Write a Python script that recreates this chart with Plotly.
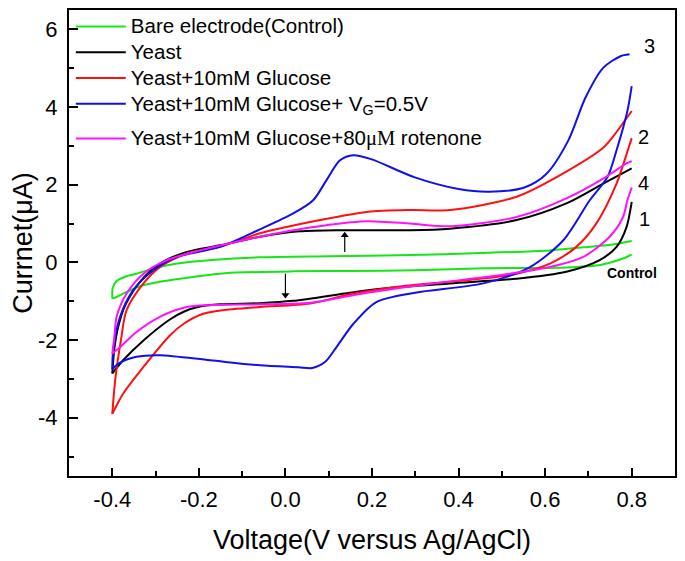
import plotly.graph_objects as go

# ---- data (V vs Ag/AgCl, current in µA) ----
# Bare electrode (Control)
ctrl_fwd_v = [-0.400, -0.399, -0.390, -0.370, -0.344, -0.30, -0.25, -0.17, -0.06, 0.10, 0.29, 0.45, 0.61, 0.70, 0.76, 0.80]
ctrl_fwd_i = [-0.93, -0.65, -0.48, -0.37, -0.29, -0.14, -0.03, 0.06, 0.13, 0.16, 0.19, 0.24, 0.31, 0.40, 0.47, 0.55]
ctrl_rev_v = [0.80, 0.78, 0.73, 0.65, 0.46, 0.30, 0.15, 0.02, -0.14, -0.21, -0.29, -0.33, -0.37, -0.39, -0.400]
ctrl_rev_i = [0.21, 0.10, -0.06, -0.13, -0.15, -0.20, -0.22, -0.23, -0.28, -0.37, -0.50, -0.59, -0.78, -0.89, -0.93]

# Yeast (1)
yeast_fwd_v = [-0.40, -0.395, -0.385, -0.37, -0.336, -0.29, -0.228, -0.151, -0.059, 0.033, 0.134, 0.288, 0.38, 0.534, 0.649, 0.734, 0.80]
yeast_fwd_i = [-2.86, -2.2, -1.6, -1.1, -0.50, -0.03, 0.27, 0.44, 0.66, 0.80, 0.83, 0.83, 0.87, 1.09, 1.52, 2.03, 2.42]
yeast_rev_v = [0.80, 0.788, 0.765, 0.726, 0.649, 0.534, 0.38, 0.226, 0.149, 0.018, -0.059, -0.151, -0.195, -0.235, -0.267, -0.328, -0.375, -0.40]
yeast_rev_i = [1.56, 0.91, 0.40, 0.06, -0.24, -0.42, -0.54, -0.67, -0.78, -0.99, -1.05, -1.08, -1.13, -1.27, -1.47, -2.01, -2.52, -2.86]

# Yeast + 10mM Glucose (2)
glu_fwd_v = [-0.40, -0.393, -0.38, -0.367, -0.328, -0.29, -0.228, -0.151, -0.059, 0.057, 0.188, 0.288, 0.38, 0.534, 0.651, 0.734, 0.754, 0.80]
glu_fwd_i = [-3.90, -3.0, -2.0, -1.23, -0.54, -0.12, 0.23, 0.40, 0.75, 1.04, 1.30, 1.35, 1.35, 1.69, 2.35, 2.95, 3.20, 3.90]
glu_rev_v = [0.80, 0.791, 0.765, 0.718, 0.672, 0.611, 0.534, 0.418, 0.264, 0.149, 0.057, -0.059, -0.150, -0.195, -0.235, -0.267, -0.328, -0.375, -0.40]
glu_rev_i = [3.20, 2.89, 2.03, 1.00, 0.40, -0.03, -0.29, -0.46, -0.62, -0.82, -1.06, -1.15, -1.24, -1.34, -1.58, -1.88, -2.69, -3.38, -3.90]

# Yeast + 10mM Glucose + VG = 0.5 V (3)
vg_fwd_v = [-0.40, -0.398, -0.382, -0.352, -0.305, -0.251, -0.151, -0.059, 0.018, 0.064, 0.095, 0.126, 0.157, 0.198, 0.299, 0.40, 0.471, 0.552, 0.602, 0.653, 0.693, 0.734, 0.774, 0.795]
vg_fwd_i = [-2.75, -2.26, -1.40, -0.72, -0.20, 0.14, 0.40, 0.85, 1.26, 1.60, 2.12, 2.63, 2.76, 2.66, 2.19, 1.89, 1.82, 1.93, 2.27, 3.13, 4.24, 5.01, 5.31, 5.36]
vg_rev_v = [0.80, 0.79, 0.765, 0.744, 0.703, 0.642, 0.565, 0.457, 0.30, 0.21, 0.157, 0.118, 0.092, 0.062, 0.030, -0.059, -0.174, -0.29, -0.344, -0.385, -0.40]
vg_rev_i = [4.54, 3.9, 2.89, 2.2, 1.60, 0.57, -0.12, -0.54, -0.78, -1.02, -1.58, -2.18, -2.56, -2.72, -2.70, -2.65, -2.52, -2.39, -2.43, -2.60, -2.75]

# Yeast + 10mM Glucose + 80µM rotenone (4)
rot_fwd_v = [-0.40, -0.395, -0.39, -0.367, -0.328, -0.274, -0.197, -0.097, 0.018, 0.095, 0.188, 0.288, 0.38, 0.534, 0.649, 0.734, 0.788, 0.80]
rot_fwd_i = [-2.35, -1.9, -1.40, -0.80, -0.29, 0.06, 0.31, 0.57, 0.83, 0.96, 1.06, 1.00, 0.93, 1.17, 1.65, 2.16, 2.55, 2.61]
rot_rev_v = [0.80, 0.79, 0.78, 0.749, 0.688, 0.611, 0.495, 0.341, 0.188, 0.057, -0.059, -0.174, -0.228, -0.29, -0.344, -0.382, -0.40]
rot_rev_i = [1.93, 1.60, 1.17, 0.66, 0.14, -0.12, -0.33, -0.54, -0.78, -1.04, -1.08, -1.10, -1.15, -1.40, -1.79, -2.18, -2.35]

series_names = [
    "Bare electrode(Control)",
    "Yeast",
    "Yeast+10mM Glucose",
    "Yeast+10mM Glucose+ V<sub>G</sub>=0.5V",
    "Yeast+10mM Glucose+80<span style=\"font-family:Liberation Serif\">μM</span> rotenone",
]
series_colors = ["#16e616", "#000000", "#ff1010", "#1010ee", "#ff10ff"]
series_groups = ["a", "a", "a", "a", "b"]

curve_labels = ["3", "2", "4", "1"]
curve_label_v = [0.840, 0.828, 0.828, 0.830]
curve_label_i = [5.57, 3.22, 2.05, 1.13]

# arrows: x, tail current, head current, head symbol
arrow_v = [0.137, 0.0]
arrow_tail_i = [0.27, -0.29]
arrow_head_i = [0.70, -0.84]
arrow_symbol = ["triangle-up", "triangle-down"]

x_tickvals = [-0.4, -0.2, 0.0, 0.2, 0.4, 0.6, 0.8]
x_ticktext = ["-0.4", "-0.2", "0.0", "0.2", "0.4", "0.6", "0.8"]
y_tickvals = [-4, -2, 0, 2, 4, 6]
y_ticktext = ["-4", "-2", "0", "2", "4", "6"]

FONT = "Liberation Sans, Arial, sans-serif"

data = [
    (ctrl_fwd_v, ctrl_fwd_i, ctrl_rev_v, ctrl_rev_i),
    (yeast_fwd_v, yeast_fwd_i, yeast_rev_v, yeast_rev_i),
    (glu_fwd_v, glu_fwd_i, glu_rev_v, glu_rev_i),
    (vg_fwd_v, vg_fwd_i, vg_rev_v, vg_rev_i),
    (rot_fwd_v, rot_fwd_i, rot_rev_v, rot_rev_i),
]

fig = go.Figure()
for (fv, fi, rv, ri), name, col, grp in zip(data, series_names, series_colors, series_groups):
    fig.add_trace(go.Scatter(
        x=list(fv) + [None] + list(rv),
        y=list(fi) + [None] + list(ri),
        mode="lines", name='<span style="font-size:20.5px">' + name + '</span>',
        legendgroup=grp,
        line=dict(color=col, width=2, shape="spline", smoothing=0.8),
        connectgaps=False,
    ))

# arrows (shaft as shapes, head as marker)
for v, t, h in zip(arrow_v, arrow_tail_i, arrow_head_i):
    fig.add_shape(type="line", x0=v, x1=v, y0=t, y1=h, xref="x", yref="y",
                  line=dict(color="#000", width=1.2))
fig.add_trace(go.Scatter(x=arrow_v, y=arrow_head_i, mode="markers", showlegend=False,
                         hoverinfo="skip",
                         marker=dict(symbol=arrow_symbol, size=7, color="#000")))

for t, v, i in zip(curve_labels, curve_label_v, curve_label_i):
    fig.add_annotation(x=v, y=i, text=t, showarrow=False,
                       font=dict(family=FONT, size=20, color="#000"))
fig.add_annotation(x=0.80, y=-0.28, text="<b>Control</b>", showarrow=False,
                   font=dict(family=FONT, size=14, color="#000"))

# the page adds an 8 px body margin, so the figure is 8 px smaller and its margins compensate
fig.update_layout(
    width=677, height=553,
    margin=dict(l=61, r=10, t=2, b=85, autoexpand=False),
    paper_bgcolor="white", plot_bgcolor="white",
    font=dict(family=FONT, color="#000"),
    showlegend=True,
    legend=dict(x=0.003, y=1.003, xanchor="left", yanchor="top",
                bgcolor="rgba(0,0,0,0)", borderwidth=0,
                font=dict(family=FONT, size=17.5, color="#000"),
                itemwidth=50, tracegroupgap=9, traceorder="grouped"),
    xaxis=dict(
        range=[-0.5, 0.9], tickmode="array", tickvals=x_tickvals, ticktext=x_ticktext,
        ticks="inside", ticklen=8, tickwidth=2, tickcolor="#000",
        showline=True, linecolor="#000", linewidth=2, mirror=True,
        showgrid=False, zeroline=False, automargin=False,
        tickfont=dict(family=FONT, size=22),
        ticklabelstandoff=3,
        minor=dict(ticks="inside", ticklen=5, tickwidth=2, tickcolor="#000", dtick=0.1, tick0=-0.5, showgrid=False),
        title=dict(text="Voltage(V versus Ag/AgCl)", font=dict(family=FONT, size=27), standoff=19),
    ),
    yaxis=dict(
        range=[-5.5, 6.5], tickmode="array", tickvals=y_tickvals, ticktext=y_ticktext,
        ticks="inside", ticklen=9, tickwidth=2, tickcolor="#000",
        showline=True, linecolor="#000", linewidth=2, mirror=True,
        showgrid=False, zeroline=False, automargin=False,
        tickfont=dict(family=FONT, size=22),
        ticklabelstandoff=5,
        minor=dict(ticks="inside", ticklen=5, tickwidth=2, tickcolor="#000", dtick=1, tick0=-5, showgrid=False),
        title=dict(text="Currnet(μA)", font=dict(family=FONT, size=27), standoff=0),
    ),
)

fig.write_html("out.html")
